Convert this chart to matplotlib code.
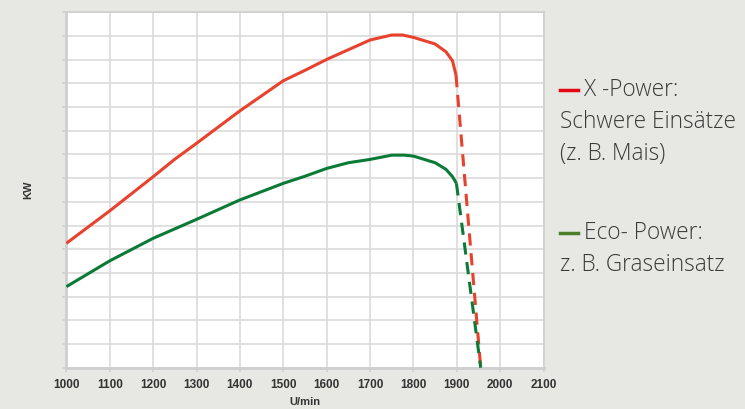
import numpy as np
import matplotlib
matplotlib.use('Agg')
import matplotlib.pyplot as plt

# X-Power curve (solid part, then the dashed fall-off)
x_rpm = [1000, 1100, 1200, 1250, 1300, 1400, 1500, 1550, 1600, 1650, 1700, 1750, 1775, 1800, 1850, 1875, 1890, 1898]
x_kw = [5.25, 6.62, 8.06, 8.8, 9.47, 10.84, 12.11, 12.55, 13.01, 13.42, 13.83, 14.04, 14.04, 13.94, 13.66, 13.33, 12.95, 12.35]
x_drop_rpm = [1898, 1955]
x_drop_kw = [12.35, 0]

# Eco-Power curve
eco_rpm = [1000, 1100, 1200, 1300, 1400, 1500, 1550, 1600, 1650, 1700, 1750, 1780, 1800, 1850, 1875, 1890, 1899]
eco_kw = [3.42, 4.51, 5.46, 6.26, 7.08, 7.78, 8.08, 8.41, 8.65, 8.79, 8.97, 8.97, 8.93, 8.65, 8.37, 8.06, 7.78]
eco_drop_rpm = [1899, 1955]
eco_drop_kw = [7.78, 0]

xticks = list(range(1000, 2101, 100))
yticks = list(range(0, 16))

bg = '#e7e7e3'
red = '#e8412c'
green = '#0b7a36'

fig = plt.figure(figsize=(7.45, 4.09), dpi=100, facecolor=bg)
ax = fig.add_axes([0.0891, 0.101, 0.6406, 0.869])
ax.set_facecolor('white')

ax.plot(x_rpm, x_kw, color=red, lw=2.2, solid_capstyle='butt', zorder=3)
ax.plot(x_drop_rpm, x_drop_kw, color=red, lw=2.2, dashes=(4, 2.5), zorder=3)
ax.plot(eco_rpm, eco_kw, color=green, lw=2.2, solid_capstyle='butt', zorder=3)
ax.plot(eco_drop_rpm, eco_drop_kw, color=green, lw=2.2, dashes=(4, 2.5), zorder=3)

ax.set_xlim(1000, 2100)
ax.set_ylim(0, 15)
ax.set_xticks(xticks)
ax.set_yticks(yticks)
ax.set_yticklabels([])
ax.grid(True, color='#dadada', lw=1.2, zorder=0)
ax.set_axisbelow(True)
for s in ax.spines.values():
    s.set_color('#cfcfcf')
    s.set_linewidth(1.2)
ax.spines['left'].set_linewidth(2)
ax.spines['bottom'].set_linewidth(2)
ax.tick_params(axis='both', colors='#cfcfcf', length=3, width=1.2)
ax.tick_params(axis='x', labelcolor='#333333', pad=5)
for lab in ax.get_xticklabels():
    lab.set_fontfamily('Liberation Sans')
    lab.set_fontweight('bold')
    lab.set_fontsize(8.5)

fig.text(305 / 745, 0.017, 'U/min', ha='center', va='center',
         family='Liberation Sans', weight='bold', fontsize=8, color='#333333')
fig.text(0.038, 0.537, 'KW', ha='center', va='center', rotation=90,
         family='Liberation Sans', weight='bold', fontsize=8, color='#333333')

# legend as plain text on the right
tc = '#3a3a3a'
fs = 16.3
fig.text(584 / 745, 1 - 90 / 409, 'X -Power:', va='center', family='Open Sans', fontsize=fs, color=tc, weight='light')
fig.text(559.5 / 745, 1 - 121.5 / 409, 'Schwere Einsätze', va='center', family='Open Sans', fontsize=fs, color=tc, weight='light')
fig.text(559.5 / 745, 1 - 154 / 409, '(z. B. Mais)', va='center', family='Open Sans', fontsize=fs, color=tc, weight='light')
fig.text(584 / 745, 1 - 233 / 409, 'Eco- Power:', va='center', family='Open Sans', fontsize=fs, color=tc, weight='light')
fig.text(559.5 / 745, 1 - 265 / 409, 'z. B. Graseinsatz', va='center', family='Open Sans', fontsize=fs, color=tc, weight='light')
fig.add_artist(plt.Line2D([560 / 745, 578 / 745], [1 - 90 / 409] * 2, color='#e30613', lw=2.5))
fig.add_artist(plt.Line2D([560 / 745, 578 / 745], [1 - 233 / 409] * 2, color='#4b7d2b', lw=2.5))

fig.savefig('out.png', dpi=100, facecolor=bg)
